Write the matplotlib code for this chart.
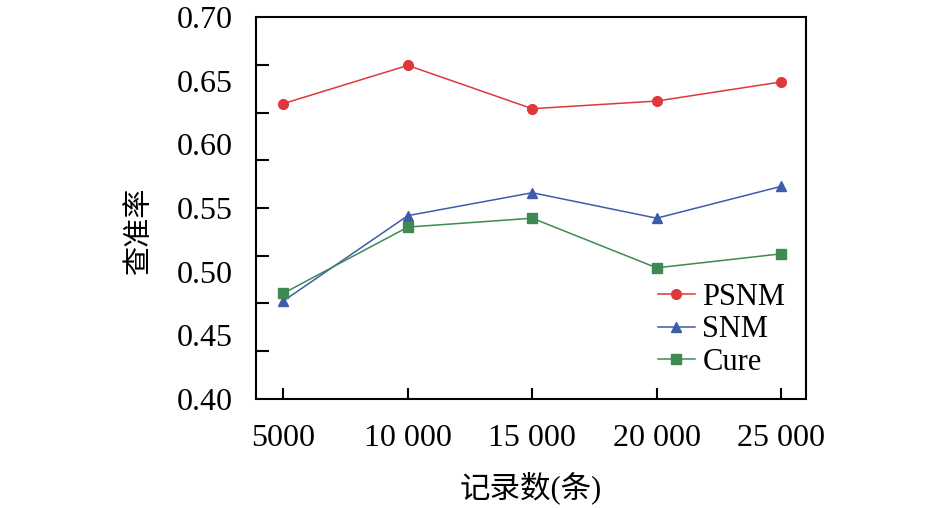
import numpy as np
import matplotlib
matplotlib.use('Agg')
import matplotlib.pyplot as plt
from matplotlib.ticker import FixedLocator

# data
records = [5000, 10000, 15000, 20000, 25000]
record_labels = ['5000', '10 000', '15 000', '20 000', '25 000']
psnm = [0.632, 0.662, 0.628, 0.634, 0.649]
snm = [0.477, 0.544, 0.562, 0.542, 0.567]
cure = [0.483, 0.535, 0.542, 0.503, 0.514]
y_labels = [0.40, 0.45, 0.50, 0.55, 0.60, 0.65, 0.70]

plt.rcParams['font.family'] = ['Liberation Serif', 'Noto Sans CJK SC']


def main():
    fig = plt.figure(figsize=(9.45, 5.08), dpi=100)
    ax = fig.add_axes([0.2709, 0.2146, 0.5820, 0.7519])

    ax.plot(records, psnm, '-o', color='#e0373a', lw=1.1, ms=7, label='PSNM')
    ax.plot(records, snm, '-^', color='#3f5cab', lw=1.1, ms=7, label='SNM')
    ax.plot(records, cure, '-s', color='#3f8a52', lw=1.1, ms=7, label='Cure')

    ax.set_xlim(3900, 26000)
    ax.set_ylim(0.40, 0.70)

    # x ticks
    ax.set_xticks(records)
    ax.set_xticklabels(record_labels)
    ax.tick_params(axis='x', direction='in', length=8, width=1.5,
                   labelsize=23, pad=18)

    # y: labels at 0.05 steps, tick marks on their own (8 intervals)
    ax.set_yticks(y_labels)
    ax.set_yticklabels(['%.2f' % v for v in y_labels])
    ax.tick_params(axis='y', which='major', length=0, labelsize=23, pad=17)
    ax.yaxis.set_minor_locator(FixedLocator(np.linspace(0.40, 0.70, 9)[1:-1]))
    ax.yaxis.remove_overlapping_locs = False
    ax.tick_params(axis='y', which='minor', direction='in', length=9, width=1.5)

    for s in ax.spines.values():
        s.set_linewidth(1.5)

    ax.text(-0.211, 0.442, '查准率', rotation=90, ha='center', va='center',
            fontsize=21, transform=ax.transAxes)
    ax.text(0.5, -0.232, '记录数(条)', ha='center', va='center',
            fontsize=22, transform=ax.transAxes)

    ax.legend(loc='center left', bbox_to_anchor=(0.731, 0.181), frameon=False,
              fontsize=22, borderpad=0, borderaxespad=0, handlelength=1.2,
              handletextpad=0.25, labelspacing=0.12)

    fig.savefig('out.png', dpi=100)


if __name__ == '__main__':
    main()
